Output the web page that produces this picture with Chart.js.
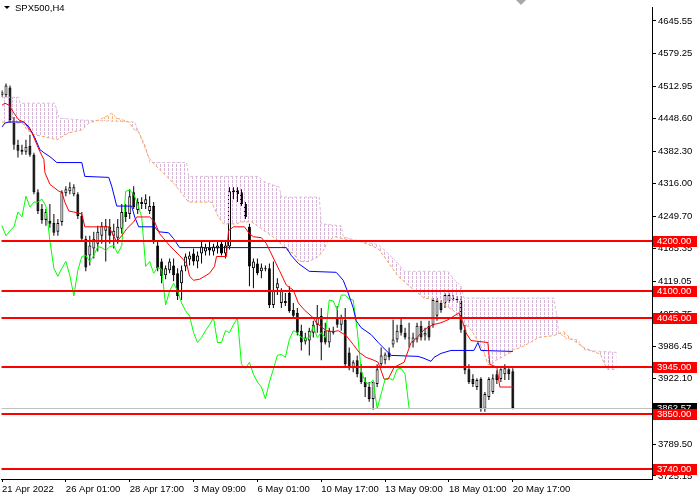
<!DOCTYPE html>
<html lang="en">
<head>
<meta charset="UTF-8">
<title>SPX500,H4</title>
<script src="https://cdn.jsdelivr.net/npm/chart.js"></script>
<style>
  html, body { margin: 0; padding: 0; background: #fff; }
</style>
</head>
<body>
<canvas id="chart" width="700" height="500"></canvas>
<script>
const symbol = 'SPX500,H4';

// H4 candles, 21 Apr 2022 .. 20 May 17:00 (one per bar index)
const opens = [4495,4495,4511,4439,4395,4385,4381,4393,4375,4299,
  4265,4243,4241,4237,4219,4239,4297,4301,4295,4295,
  4251,4205,4171,4185,4195,4211,4221,4229,4211,4207,
  4225,4259,4255,4299,4263,4275,4275,4261,4271,4191,
  4159,4131,4141,4151,4135,4115,4149,4163,4175,4159,
  4175,4179,4187,4179,4185,4195,4175,4189,4299,4303,
  4299,4275,4229,4145,4155,4139,4145,4145,4071,4105,
  4075,4079,4095,4061,4055,4019,3997,3999,4015,4031,
  4049,4019,3995,4019,4045,4031,4041,3975,3943,3959,
  3935,3915,3905,3881,3911,3951,3959,3975,3991,4001,
  4031,4015,4005,3995,4001,4029,4009,4029,4031,4049,
  4075,4075,4079,4085,4083,4079,4021,3941,3921,3905,
  3921,3861,3885,3895,3931,3921,3931,3941,3937];
const highs = [4505,4519,4515,4451,4405,4395,4405,4415,4379,4305,
  4275,4265,4275,4255,4245,4303,4311,4319,4315,4299,
  4259,4211,4211,4219,4231,4239,4245,4245,4235,4245,
  4275,4275,4305,4311,4287,4289,4295,4291,4279,4201,
  4165,4151,4165,4165,4145,4151,4175,4179,4185,4179,
  4199,4195,4199,4195,4199,4199,4199,4309,4309,4309,
  4305,4279,4235,4165,4165,4155,4151,4155,4159,4125,
  4105,4095,4109,4075,4065,4031,4015,4025,4039,4071,
  4065,4035,4025,4027,4069,4051,4065,3985,3959,3969,
  3951,3925,3915,3905,3951,3985,3975,3985,4041,4031,
  4045,4025,4035,4015,4035,4039,4025,4039,4085,4085,
  4081,4095,4095,4091,4089,4089,4031,3951,3931,3923,
  3925,3895,3925,3931,3939,3943,3951,3943,3943];
const lows = [4491,4491,4439,4385,4369,4375,4375,4371,4295,4255,
  4235,4231,4227,4211,4211,4231,4291,4295,4291,4245,
  4199,4139,4151,4165,4179,4195,4159,4195,4185,4195,
  4215,4239,4245,4265,4255,4265,4265,4255,4195,4139,
  4115,4123,4135,4119,4081,4081,4139,4151,4151,4145,
  4155,4171,4171,4171,4175,4171,4165,4183,4285,4279,
  4271,4245,4109,4105,4131,4125,4139,4065,4065,4091,
  4065,4069,4055,4043,4009,3979,3991,3969,4005,4015,
  3959,3991,3985,4011,4025,4019,3945,3939,3935,3925,
  3911,3885,3875,3859,3905,3945,3951,3959,3985,3995,
  4009,4001,3985,3985,3995,3999,3999,3999,4025,4039,
  4055,4065,4075,4079,4075,4015,3931,3911,3905,3899,
  3855,3855,3879,3891,3911,3915,3919,3919,3860];
const closes = [4501,4515,4445,4395,4383,4381,4391,4375,4299,4261,
  4243,4259,4235,4217,4237,4299,4305,4309,4309,4251,
  4205,4147,4191,4205,4219,4231,4231,4211,4221,4229,
  4259,4249,4291,4269,4279,4279,4285,4271,4201,4145,
  4129,4145,4159,4131,4089,4141,4169,4171,4159,4171,
  4189,4187,4181,4189,4191,4175,4191,4301,4303,4295,
  4275,4249,4149,4159,4135,4147,4143,4071,4099,4115,
  4099,4075,4059,4049,4015,3995,4005,4019,4031,4045,
  3995,3995,4019,4015,4031,4045,3951,3943,3955,3931,
  3915,3905,3881,3915,3941,3969,3971,3965,4001,4019,
  4015,4005,4003,4005,4029,4005,4015,4005,4081,4079,
  4061,4091,4091,4083,4081,4021,3939,3915,3911,3919,
  3861,3891,3921,3923,3919,3941,3943,3931,3862.57];

// Ichimoku lines (bar position, price)
const tenkanX = [0,0.75,1.75,3,4.25,5.5,7.5,9.5,10.5,10.75,12,14.25,15,15.75,16.75,18,20,20.75,26.75,28.75,
  30,31.25,33,33.75,37,38.25,39.5,42,44.5,46.25,47,48,49.5,52,53.25,53.75,56.25,56.75,58,60.75,
  62,63,65,66.25,69.5,71.25,73,74.25,75.75,78,78.75,81.25,83,84.25,86.25,88,89.5,91.25,93.25,94.25,
  95.75,96.75,98.25,100.75,102.5,103.75,105.75,108,110,111.75,114.5,115.5,116.25,117.5,121.75,122.25,124,124.75,128];
const tenkanY = [4475,4479,4475,4459,4445,4441,4419,4381,4365,4339,4315,4301,4299,4279,4261,4259,4255,4229,4229,4199,
  4211,4225,4239,4249,4249,4239,4215,4191,4171,4155,4129,4121,4123,4135,4149,4169,4169,4221,4229,4229,
  4215,4209,4207,4195,4141,4111,4101,4075,4061,4045,4035,4019,4017,4019,4009,3991,3975,3965,3959,3955,
  3921,3921,3945,3955,3995,4003,4021,4031,4035,4041,4055,4035,4015,3999,3995,3951,3945,3905,3905];

const kijunX = [0,0.75,1.75,5.5,6.75,8.25,9.5,10.5,12,13.75,20,20.75,26.75,27.5,28.75,32.5,33.25,34.25,38.25,39.25,
  41.75,43,44.5,71.25,72.5,74.25,77,83.75,85.5,86.75,88,88.75,90,92.5,94.5,96.25,97.5,104.25,105.75,107.5,
  108.25,110,112.5,118.25,119.25,120,128];
const kijunY = [4431,4439,4441,4441,4431,4409,4385,4379,4371,4359,4359,4331,4329,4311,4271,4271,4249,4229,4229,4219,
  4217,4205,4187,4187,4171,4155,4139,4137,4121,4095,4065,4039,4025,4011,3993,3979,3969,3967,3963,3957,
  3965,3973,3979,3979,3995,3979,3977];

const spanAX = [0,5,5.5,6.25,8.25,10.75,13.75,16.75,20,21.75,24.25,26.75,27.5,28.75,31.75,33.25,34.25,35.75,36.75,38.25,
  40.75,43.25,46.75,52.5,54.25,55.5,58.75,60,62.5,65,66.75,69.25,70.75,73,74.5,77,79.25,80.5,81.75,83.25,
  86.75,90,94.25,95.75,97.5,99.25,101.75,104.25,105.75,109.25,111.25,113.25,115.75,117.5,119.5,120.75,121.75,122.5,123.75,127.5,
  128.25,130,133.25,134.25,138.25,140.75,141.75,143.25,145.75,147.5,150,150.75,151.75,154];
const spanAY = [4441,4439,4435,4425,4415,4411,4405,4419,4425,4439,4445,4455,4459,4449,4441,4425,4421,4395,4369,4355,
  4335,4315,4279,4279,4249,4235,4235,4239,4239,4225,4215,4201,4185,4175,4159,4159,4169,4181,4201,4209,
  4203,4199,4185,4169,4149,4129,4111,4095,4085,4081,4069,4059,4035,4021,3995,3975,3951,3949,3959,3975,
  3981,3985,3999,4005,4009,4017,4009,3999,3985,3979,3971,3955,3941,3941];

const spanBX = [0,4.25,4.5,13.25,14.25,20,33.25,35.75,36.75,37,46.25,46.75,64.25,65.5,69.5,70,79.5,80,85,85.5,
  90,94.25,96.25,99.25,100.75,111.75,113,115,115.75,138.25,139,139.5,141.75,144.25,145.75,146.75,154];
const spanBY = [4491,4491,4479,4479,4449,4445,4441,4389,4371,4359,4359,4331,4331,4321,4309,4289,4289,4235,4231,4209,
  4199,4193,4179,4155,4139,4139,4125,4109,4085,4085,4051,4015,4001,4001,3981,3979,3975];

const chikouShift = 26;

// horizontal levels drawn on the chart
const levels = [4200, 4100, 4045, 3945, 3850, 3740];

// axis ticks
const yTicks = [4645.55,4579.25,4512.95,4448.60,4382.30,4316.00,4249.70,4185.35,4119.05,4052.75,3986.45,3922.10,3855.80,3789.50,3725.15];
const xTickBars = [0,16,32,48,64,80,96,112,128];
const xTickLabels = ['21 Apr 2022','26 Apr 01:00','28 Apr 17:00','3 May 09:00','6 May 01:00','10 May 17:00','13 May 09:00','18 May 01:00','20 May 17:00'];

const FONT = "'Liberation Sans', Arial, sans-serif";
const canvas = document.getElementById('chart');
const ctx = canvas.getContext('2d');

// vertical dashed hatch, one column per bar
function hatch(color) {
  const tile = document.createElement('canvas');
  tile.width = 4; tile.height = 4;
  const g = tile.getContext('2d');
  g.fillStyle = color;
  g.fillRect(0, 0, 1, 3);
  return ctx.createPattern(tile, 'repeat');
}

const pts = (xs, ys) => xs.map((x, i) => ({ x: x, y: ys[i] }));
const bars = opens.map((_, i) => i);

const overlay = {
  id: 'overlay',
  afterDatasetsDraw(chart) {
    const c = chart.ctx, a = chart.chartArea, y = chart.scales.y, x = chart.scales.x;
    c.save();
    // bid line
    const last = closes[closes.length - 1];
    const py = Math.round(y.getPixelForValue(last)) + 0.5;
    c.strokeStyle = '#c0c0c0';
    c.lineWidth = 1;
    c.beginPath(); c.moveTo(a.left, py); c.lineTo(a.right, py); c.stroke();
    // levels
    c.strokeStyle = '#ff0000';
    c.lineWidth = 2;
    levels.forEach(v => {
      const ly = Math.round(y.getPixelForValue(v));
      c.beginPath(); c.moveTo(a.left, ly); c.lineTo(a.right, ly); c.stroke();
    });
    // price boxes on the axis
    c.font = '9.5px ' + FONT;
    c.textBaseline = 'middle';
    c.textAlign = 'left';
    const box = (v, bg) => {
      const by = Math.round(y.getPixelForValue(v));
      c.fillStyle = bg;
      c.fillRect(a.right + 1, by - 5, 44, 11);
      c.fillStyle = '#fff';
      c.fillText(v.toFixed(2), a.right + 5, by + 0.5);
    };
    box(last, '#000');
    levels.forEach(v => box(v, '#ff0000'));
    // title
    c.fillStyle = '#000';
    c.beginPath(); c.moveTo(4, 6); c.lineTo(10, 6); c.lineTo(7, 9); c.closePath(); c.fill();
    c.fillText(symbol, 15, 8);
    // chart shift marker
    const sx = Math.round(x.getPixelForValue(130));
    c.fillStyle = '#a8a8a8';
    c.beginPath(); c.moveTo(sx - 5, 0); c.lineTo(sx + 5, 0); c.lineTo(sx, 5); c.closePath(); c.fill();
    c.restore();
  }
};

new Chart(ctx, {
  type: 'bar',
  data: {
    datasets: [
      {
        label: 'wicks',
        data: bars.map(i => ({ x: i, y: [lows[i], highs[i]] })),
        backgroundColor: '#000',
        barThickness: 1,
        grouped: false,
        inflateAmount: 0,
        order: 10
      },
      {
        label: 'bodies',
        data: bars.map(i => ({ x: i, y: [opens[i], closes[i]] })),
        backgroundColor: c => closes[c.dataIndex] >= opens[c.dataIndex] ? '#fff' : '#000',
        borderColor: '#000',
        borderWidth: 1,
        borderSkipped: false,
        barThickness: 3,
        grouped: false,
        inflateAmount: 0,
        order: 9
      },
      {
        type: 'line',
        label: 'Senkou Span B',
        data: pts(spanBX, spanBY),
        borderColor: '#d8bfd8',
        borderDash: [3, 2],
        borderWidth: 1,
        pointRadius: 0,
        tension: 0,
        fill: { target: 3, above: hatch('#d6b6d6'), below: hatch('#f4b080') },
        order: 5
      },
      {
        type: 'line',
        label: 'Senkou Span A',
        data: pts(spanAX, spanAY),
        borderColor: '#f4a460',
        borderDash: [3, 2],
        borderWidth: 1,
        pointRadius: 0,
        tension: 0,
        order: 4
      },
      {
        type: 'line',
        label: 'Chikou Span',
        data: bars.map(i => ({ x: i - chikouShift, y: closes[i] })),
        borderColor: '#00ff00',
        borderWidth: 1,
        pointRadius: 0,
        tension: 0,
        order: 3
      },
      {
        type: 'line',
        label: 'Kijun-sen',
        data: pts(kijunX, kijunY),
        borderColor: '#0000ff',
        borderWidth: 1,
        pointRadius: 0,
        tension: 0,
        order: 2
      },
      {
        type: 'line',
        label: 'Tenkan-sen',
        data: pts(tenkanX, tenkanY),
        borderColor: '#ff0000',
        borderWidth: 1,
        pointRadius: 0,
        tension: 0,
        order: 1
      }
    ]
  },
  options: {
    responsive: false,
    animation: false,
    events: [],
    layout: { padding: 0 },
    plugins: { legend: { display: false }, tooltip: { enabled: false } },
    scales: {
      x: {
        type: 'linear',
        min: -0.125,
        max: 162.875,
        offset: false,
        afterBuildTicks: s => { s.ticks = xTickBars.map(v => ({ value: v })); },
        afterFit: s => { s.height = 21; },
        grid: { drawOnChartArea: false, offset: false, tickLength: 3, color: '#000' },
        border: { color: '#000' },
        ticks: {
          autoSkip: false, maxRotation: 0, align: 'start', padding: 2, color: '#000',
          font: { family: FONT, size: 9.5 },
          callback: (v, i) => xTickLabels[i]
        }
      },
      y: {
        position: 'right',
        min: 3719.0,
        max: 4672.2,
        afterBuildTicks: s => { s.ticks = yTicks.map(v => ({ value: v })); },
        afterFit: s => { s.width = 48; },
        grid: { drawOnChartArea: false, tickLength: 4, color: '#000' },
        border: { color: '#000' },
        ticks: {
          padding: 2, color: '#000',
          font: { family: FONT, size: 9.5 },
          callback: v => v.toFixed(2)
        }
      }
    }
  },
  plugins: [overlay]
});
</script>
</body>
</html>
